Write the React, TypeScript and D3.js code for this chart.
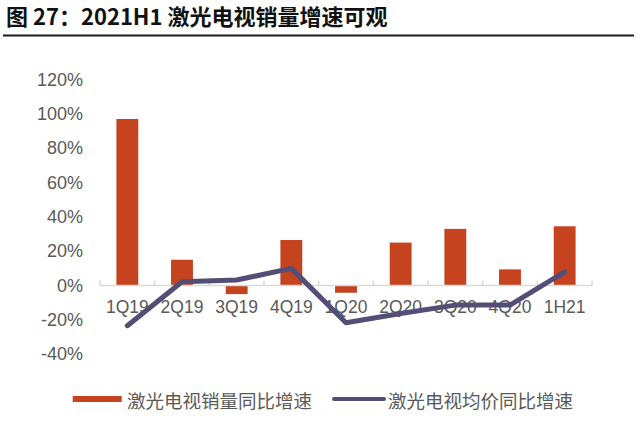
import React from "react";
import * as d3 from "d3";

const categories = ["1Q19", "2Q19", "3Q19", "4Q19", "1Q20", "2Q20", "3Q20", "4Q20", "1H21"];
const salesGrowth = [97, 15, -5, 26.5, -4.2, 25, 33, 9.4, 34.5];
const priceGrowth = [-23.4, 2.2, 3.2, 10, -21.7, -16.3, -11.4, -11.4, 7.9];
const yTicks = [-40, -20, 0, 20, 40, 60, 80, 100, 120];
const titleText = "图 27：2021H1 激光电视销量增速可观";
const legendSales = "激光电视销量同比增速";
const legendPrice = "激光电视均价同比增速";

const W = 641;
const H = 421;
const BAR = "#c5431f";
const LINE = "#524e75";
const GRAY = "#595959";
const NUM_FONT = "'Liberation Sans', Arial, sans-serif";
const CJK_FONT = "'Noto Sans CJK SC', 'Noto Sans', sans-serif";

export default function App() {
  const y = d3.scaleLinear().domain([-40, 120]).range([354.2, 79.5]);
  const x = d3.scaleBand<string>().domain(categories).range([100, 592]).paddingInner(0.6).paddingOuter(0.3);
  const step = x.step();
  const left = 100;
  const center = (c: string) => (x(c) as number) + x.bandwidth() / 2;
  const line = d3
    .line<number>()
    .x((_, i) => center(categories[i]))
    .y((v) => y(v));
  const y0 = y(0);

  return (
    <svg width={W} height={H} style={{ position: "absolute", left: 0, top: 0, background: "#fff" }}>
      <text x={6} y={24.5} fontFamily={CJK_FONT} fontWeight={700} fontSize={22} fill="#111">
        {titleText}
      </text>
      <line x1={3} x2={634} y1={35.5} y2={35.5} stroke="#1a1a1a" strokeWidth={2} />

      {yTicks.map((t) => (
        <text key={t} x={83} y={y(t)} textAnchor="end" dominantBaseline="central" fontFamily={NUM_FONT} fontSize={18} fill={GRAY}>
          {t + "%"}
        </text>
      ))}

      {categories.map((c, i) => {
        const v = salesGrowth[i];
        return (
          <rect key={c} x={x(c)} y={Math.min(y(v), y0)} width={x.bandwidth()} height={Math.abs(y(v) - y0)} fill={BAR} />
        );
      })}

      <line x1={left} x2={592} y1={y0} y2={y0} stroke="#d9d9d9" strokeWidth={1.5} />
      {d3.range(categories.length + 1).map((i) => (
        <line key={i} x1={left + i * step} x2={left + i * step} y1={y0 - 5} y2={y0} stroke="#d9d9d9" strokeWidth={1.5} />
      ))}

      {categories.map((c) => (
        <text key={c} x={center(c)} y={313} textAnchor="middle" fontFamily={NUM_FONT} fontSize={17.5} fill={GRAY}>
          {c}
        </text>
      ))}

      <path d={line(priceGrowth) || ""} fill="none" stroke={LINE} strokeWidth={5} strokeLinejoin="round" strokeLinecap="round" />

      <rect x={72.7} y={396} width={49} height={6} fill={BAR} />
      <text x={127} y={408} fontFamily={CJK_FONT} fontSize={18.5} fill={GRAY}>
        {legendSales}
      </text>
      <line x1={334} x2={384} y1={399} y2={399} stroke={LINE} strokeWidth={4} strokeLinecap="round" />
      <text x={388} y={408} fontFamily={CJK_FONT} fontSize={18.5} fill={GRAY}>
        {legendPrice}
      </text>
    </svg>
  );
}
